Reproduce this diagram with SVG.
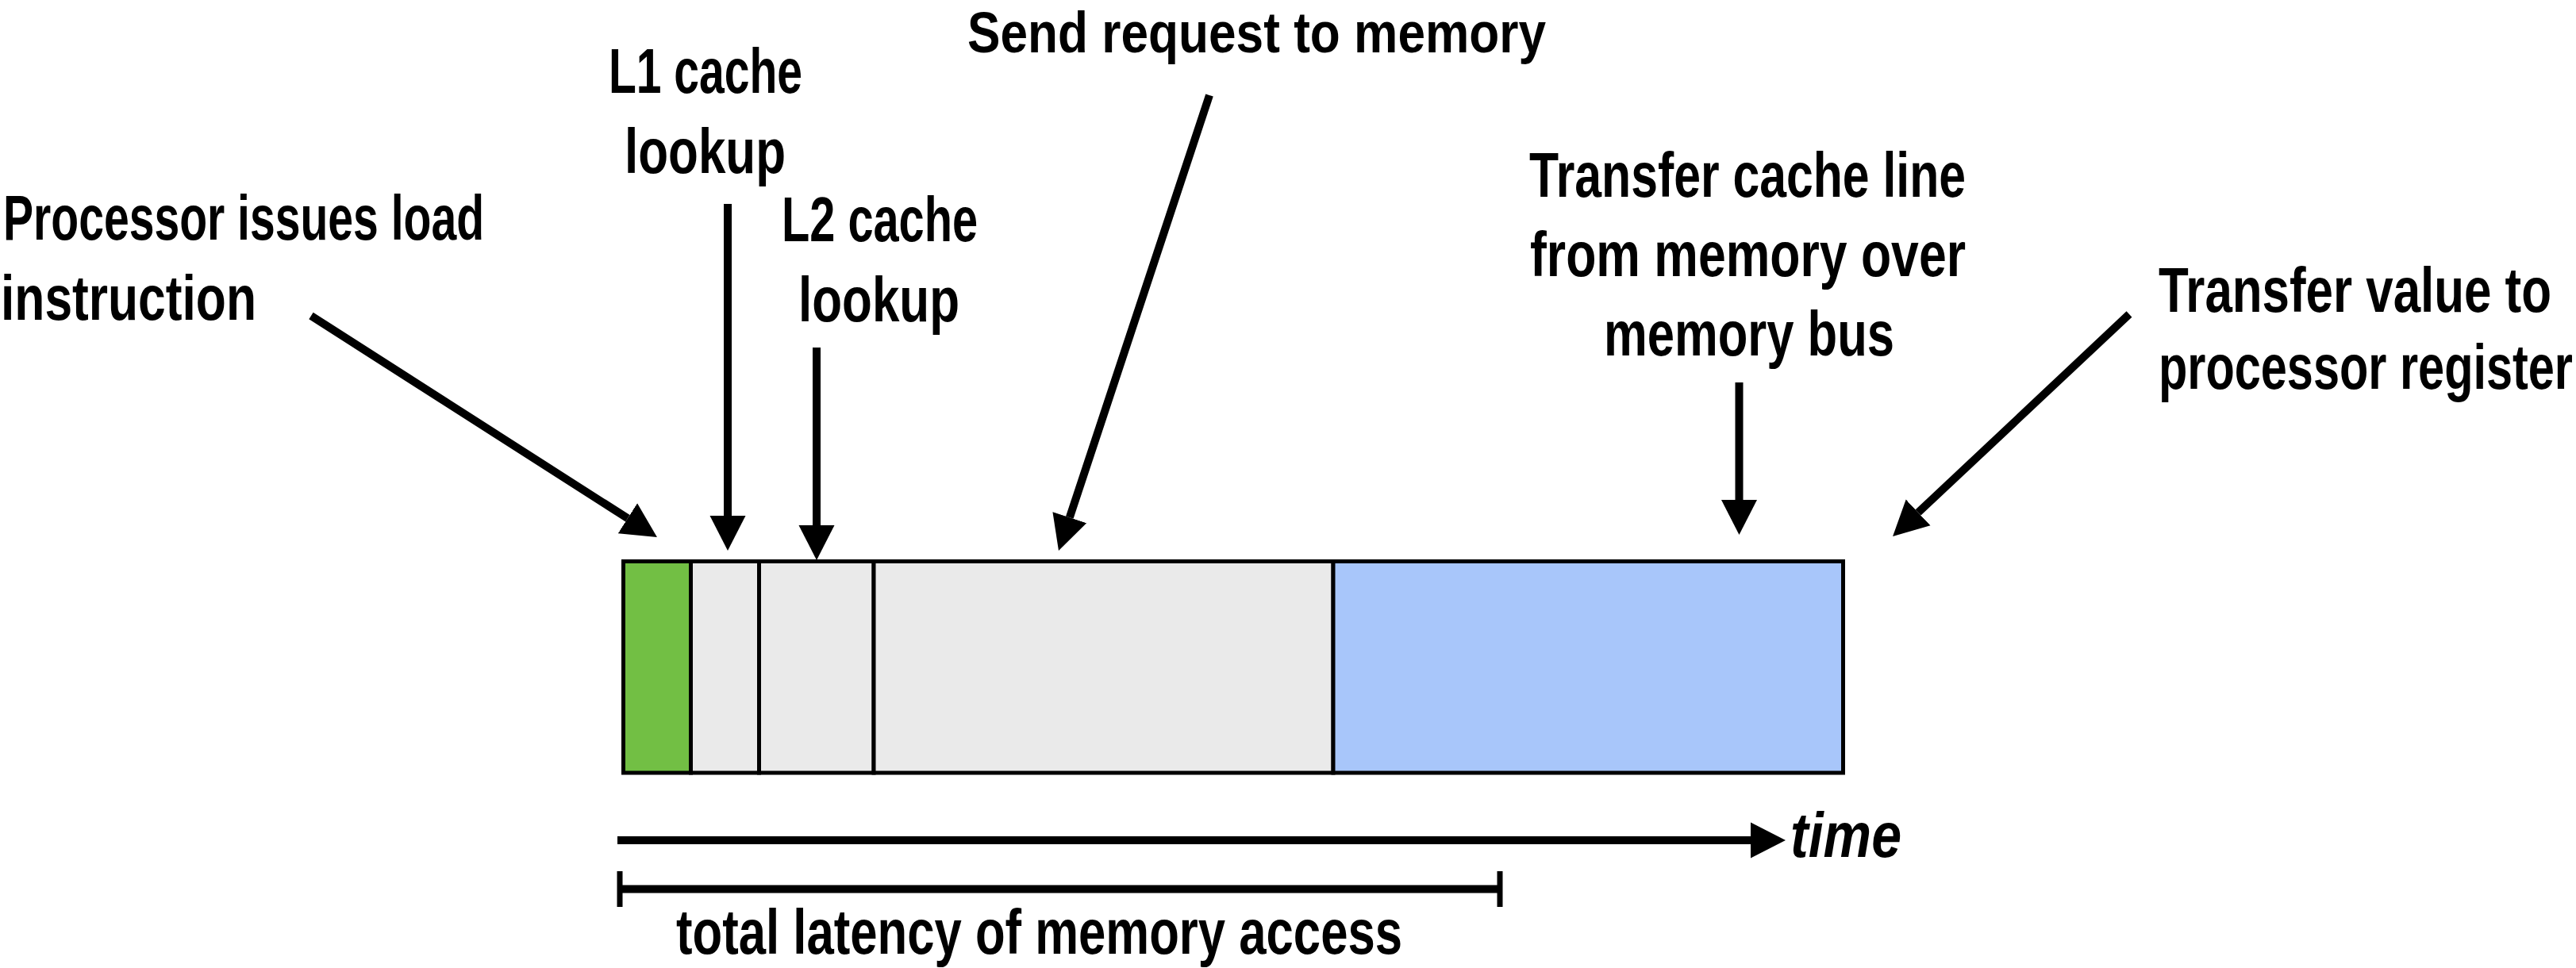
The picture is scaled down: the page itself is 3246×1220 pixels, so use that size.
<svg xmlns="http://www.w3.org/2000/svg" width="3246" height="1220" viewBox="0 0 3246 1220">
  <style>
    .lbl { font-family: "Liberation Sans", Arial, sans-serif; font-weight: bold; font-size: 80px; fill: #000; }
    .it { font-style: italic; }
    .seg { stroke: #000; stroke-width: 5; }
    .conn { stroke: #000; stroke-width: 10; fill: none; stroke-linecap: butt; }
    .tick { stroke: #000; stroke-width: 7; fill: none; }
  </style>
  <defs>
    <marker id="head" markerUnits="userSpaceOnUse" viewBox="0 -25 50 50" refX="0" refY="0" markerWidth="50" markerHeight="50" orient="auto">
      <path d="M0,-22.5 L44,0 L0,22.5 Z" fill="#000"/>
    </marker>
  </defs>
  <rect width="3246" height="1220" fill="#fff"/>

  <g id="bar">
    <rect id="seg-issue" class="seg" x="785.5" y="707.5" width="85" height="266.5" fill="#72BF44"/>
    <rect id="seg-l1" class="seg" x="870.5" y="707.5" width="86" height="266.5" fill="#EAEAEA"/>
    <rect id="seg-l2" class="seg" x="956.5" y="707.5" width="144.5" height="266.5" fill="#EAEAEA"/>
    <rect id="seg-request" class="seg" x="1101" y="707.5" width="579" height="266.5" fill="#EAEAEA"/>
    <rect id="seg-transfer" class="seg" x="1680" y="707.5" width="642.5" height="266.5" fill="#A8C6FA"/>
  </g>

  <g id="label-processor">
    <text class="lbl" x="4" y="302" textLength="606" lengthAdjust="spacingAndGlyphs">Processor issues load</text>
    <text class="lbl" x="1" y="403" textLength="322" lengthAdjust="spacingAndGlyphs">instruction</text>
  </g>
  <g id="label-l1">
    <text class="lbl" x="767" y="117" textLength="244" lengthAdjust="spacingAndGlyphs">L1 cache</text>
    <text class="lbl" x="787" y="218" textLength="203" lengthAdjust="spacingAndGlyphs">lookup</text>
  </g>
  <g id="label-l2">
    <text class="lbl" x="985" y="304" textLength="247" lengthAdjust="spacingAndGlyphs">L2 cache</text>
    <text class="lbl" x="1006" y="405" textLength="203" lengthAdjust="spacingAndGlyphs">lookup</text>
  </g>
  <g id="label-send">
    <text class="lbl" x="1219" y="66" font-size="72" style="font-size:72px" textLength="729" lengthAdjust="spacingAndGlyphs">Send request to memory</text>
  </g>
  <g id="label-transfer-line">
    <text class="lbl" x="1927" y="248" textLength="550" lengthAdjust="spacingAndGlyphs">Transfer cache line</text>
    <text class="lbl" x="1928" y="348" textLength="549" lengthAdjust="spacingAndGlyphs">from memory over</text>
    <text class="lbl" x="2021" y="448" textLength="366" lengthAdjust="spacingAndGlyphs">memory bus</text>
  </g>
  <g id="label-transfer-value">
    <text class="lbl" x="2720" y="393" textLength="495" lengthAdjust="spacingAndGlyphs">Transfer value to</text>
    <text class="lbl" x="2720" y="490" textLength="522" lengthAdjust="spacingAndGlyphs">processor register</text>
  </g>
  <g id="label-time">
    <text class="lbl it" x="2256" y="1080" textLength="140" lengthAdjust="spacingAndGlyphs">time</text>
  </g>
  <g id="label-latency">
    <text class="lbl" x="852" y="1202" textLength="915" lengthAdjust="spacingAndGlyphs">total latency of memory access</text>
  </g>

  <g id="connectors">
    <line class="conn" x1="392" y1="398" x2="790.9" y2="653.3" marker-end="url(#head)"/>
    <line class="conn" x1="917" y1="257" x2="917" y2="650" marker-end="url(#head)"/>
    <line class="conn" x1="1029" y1="438" x2="1029" y2="662" marker-end="url(#head)"/>
    <line class="conn" x1="1524" y1="120" x2="1347.8" y2="652.2" marker-end="url(#head)"/>
    <line class="conn" x1="2191.5" y1="482" x2="2191.5" y2="630" marker-end="url(#head)"/>
    <line class="conn" x1="2683" y1="396" x2="2417.1" y2="645.9" marker-end="url(#head)"/>
    <line class="conn" x1="778" y1="1059" x2="2206" y2="1059" marker-end="url(#head)"/>
    <g id="latency-bracket">
      <line class="conn" x1="781" y1="1120.5" x2="1890" y2="1120.5"/>
      <line class="tick" x1="781" y1="1098" x2="781" y2="1143"/>
      <line class="tick" x1="1890" y1="1098" x2="1890" y2="1143"/>
    </g>
  </g>
</svg>
